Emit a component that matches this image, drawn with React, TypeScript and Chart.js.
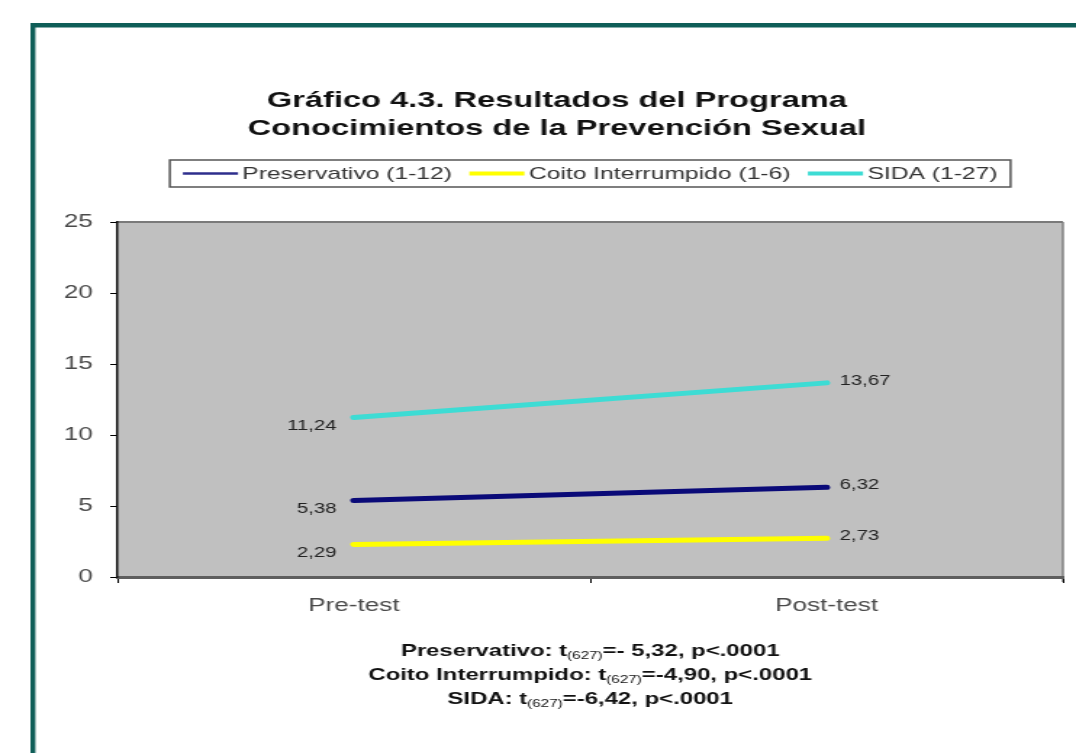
import React, { useEffect, useRef } from 'react';
import { Chart, registerables } from 'chart.js';

Chart.register(...registerables);

// ---- data ----
const categories = ['Pre-test', 'Post-test'];
const seriesNames = ['Preservativo (1-12)', 'Coito Interrumpido (1-6)', 'SIDA (1-27)'];
const preservativo = [5.38, 6.32];
const coitoInterrumpido = [2.29, 2.73];
const sida = [11.24, 13.67];
const seriesColors = ['#0a0a78', '#ffff00', '#3ddcd4'];
const yTicks = [0, 5, 10, 15, 20, 25];
const titleLines = ['Gráfico 4.3. Resultados del Programa', 'Conocimientos de la Prevención Sexual'];
const statNames = ['Preservativo', 'Coito Interrumpido', 'SIDA'];
const statDf = '(627)';
const statT = ['- 5,32', '-4,90', '-6,42'];
const statP = 'p<.0001';

// ---- layout ----
const W = 742;
const H = 753;
const STRETCH = 1076 / W;
const FONT = '"Liberation Sans", Arial, Helvetica, sans-serif';

const fmt = (v: number) => v.toFixed(2).replace('.', ',');

const decorPlugin = {
  id: 'decor',
  beforeDraw(chart: any) {
    const { ctx, chartArea: a, width, height } = chart;
    ctx.save();
    ctx.fillStyle = '#ffffff';
    ctx.fillRect(0, 0, width, height);
    // teal frame (top + left)
    ctx.fillStyle = '#0f5e58';
    ctx.fillRect(21, 23, width - 21, 4.5);
    ctx.fillRect(21, 23, 3.4, height - 23);
    // plot background
    ctx.fillStyle = '#c0c0c0';
    ctx.fillRect(a.left, a.top, a.right - a.left, a.bottom - a.top);
    ctx.strokeStyle = '#7a7a7a';
    ctx.lineWidth = 2;
    ctx.beginPath();
    ctx.moveTo(a.left, a.top);
    ctx.lineTo(a.right, a.top);
    ctx.stroke();
    ctx.lineWidth = 1.4;
    ctx.beginPath();
    ctx.moveTo(a.right, a.top);
    ctx.lineTo(a.right, a.bottom + 5);
    ctx.stroke();
    ctx.restore();
  },
  afterDatasetsDraw(chart: any) {
    const { ctx } = chart;
    ctx.save();
    ctx.font = `14px ${FONT}`;
    ctx.fillStyle = '#222222';
    ctx.textBaseline = 'middle';
    chart.data.datasets.forEach((ds: any, i: number) => {
      const meta = chart.getDatasetMeta(i);
      meta.data.forEach((pt: any, j: number) => {
        const txt = fmt(ds.data[j]);
        if (j === 0) {
          ctx.textAlign = 'right';
          ctx.fillText(txt, pt.x - 12, pt.y + 9);
        } else {
          ctx.textAlign = 'left';
          ctx.fillText(txt, pt.x + 9, pt.y - 2);
        }
      });
    });
    ctx.restore();
  },
  afterDraw(chart: any) {
    const { ctx, chartArea: a } = chart;
    const cx = (a.left + a.right) / 2;
    ctx.save();
    // title
    ctx.font = `bold 22.5px ${FONT}`;
    ctx.fillStyle = '#111111';
    ctx.textAlign = 'center';
    ctx.textBaseline = 'middle';
    ctx.fillText(titleLines[0], 384, 101);
    ctx.fillText(titleLines[1], 384, 129);

    // legend
    ctx.font = `17px ${FONT}`;
    const lineW = 38, gapLT = 3, gapItem = 12, padX = 9;
    const widths = chart.data.datasets.map((d: any) => ctx.measureText(d.label).width);
    let total = padX * 2;
    widths.forEach((w: number, i: number) => {
      total += lineW + gapLT + w + (i < widths.length - 1 ? gapItem : 0);
    });
    const boxL = cx - total / 2;
    const boxT = 160, boxH = 27;
    const ly = boxT + boxH / 2;
    ctx.fillStyle = '#ffffff';
    ctx.fillRect(boxL, boxT, total, boxH);
    ctx.strokeStyle = '#555555';
    ctx.lineWidth = 1.5;
    ctx.strokeRect(boxL, boxT, total, boxH);
    let x = boxL + padX;
    ctx.textAlign = 'left';
    chart.data.datasets.forEach((d: any, i: number) => {
      ctx.strokeStyle = i === 0 ? '#2e2e8c' : d.borderColor;
      ctx.lineWidth = i === 0 ? 2.5 : 4;
      ctx.beginPath();
      ctx.moveTo(x, ly);
      ctx.lineTo(x + lineW, ly);
      ctx.stroke();
      x += lineW + gapLT;
      ctx.fillStyle = '#333333';
      ctx.fillText(d.label, x, ly + 1);
      x += widths[i] + gapItem;
    });

    // statistics
    const bold = `bold 16.5px ${FONT}`;
    const sub = `10.5px ${FONT}`;
    const ys = [651, 675, 699];
    statNames.forEach((name, i) => {
      const segs = [
        { t: `${name}: t`, f: bold, dy: 0 },
        { t: statDf, f: sub, dy: 5 },
        { t: `=${statT[i]}, ${statP}`, f: bold, dy: 0 },
      ];
      let tw = 0;
      segs.forEach((s) => { ctx.font = s.f; tw += ctx.measureText(s.t).width; });
      let sx = cx - tw / 2;
      ctx.textAlign = 'left';
      ctx.fillStyle = '#111111';
      segs.forEach((s) => {
        ctx.font = s.f;
        ctx.fillText(s.t, sx, ys[i] + s.dy);
        sx += ctx.measureText(s.t).width;
      });
    });
    ctx.restore();
  },
};

export default function App() {
  const ref = useRef<HTMLCanvasElement>(null);
  useEffect(() => {
    if (!ref.current) return;
    const chart = new Chart(ref.current, {
      type: 'line',
      data: {
        labels: categories,
        datasets: [
          { label: seriesNames[0], data: preservativo, borderColor: seriesColors[0], backgroundColor: seriesColors[0] },
          { label: seriesNames[1], data: coitoInterrumpido, borderColor: seriesColors[1], backgroundColor: seriesColors[1] },
          { label: seriesNames[2], data: sida, borderColor: seriesColors[2], backgroundColor: seriesColors[2] },
        ].map((d) => ({ ...d, borderWidth: 5, pointRadius: 0, tension: 0, borderCapStyle: 'round' as const })),
      },
      options: {
        responsive: false,
        animation: false,
        layout: { padding: { top: 222, right: 9, bottom: 136, left: 0 } },
        plugins: {
          legend: { display: false },
          title: { display: false },
          tooltip: { enabled: false },
        },
        scales: {
          x: {
            type: 'category',
            offset: true,
            grid: { offset: true, drawOnChartArea: false, drawTicks: true, tickLength: 6, color: '#000000' },
            border: { display: true, color: '#5e5e5e', width: 3 },
            ticks: { font: { family: FONT, size: 18 }, color: '#4a4a4a', padding: 12 },
            afterFit: (s: any) => { s.height = 40; },
          },
          y: {
            min: yTicks[0],
            max: yTicks[yTicks.length - 1],
            ticks: { stepSize: yTicks[1] - yTicks[0], font: { family: FONT, size: 18 }, color: '#4a4a4a', padding: 12 },
            grid: { drawOnChartArea: false, drawTicks: true, tickLength: 5, color: '#000000' },
            border: { display: true, color: '#111111', width: 1.5 },
            afterFit: (s: any) => { s.width = 81; },
          },
        },
      },
      plugins: [decorPlugin],
    });
    return () => chart.destroy();
  }, []);
  return (
    <div
      style={{
        position: 'absolute',
        left: 0,
        top: 0,
        width: W,
        height: H,
        transform: `scaleX(${STRETCH})`,
        transformOrigin: '0 0',
      }}
    >
      <canvas ref={ref} width={W} height={H} style={{ width: W, height: H, display: 'block' }} />
    </div>
  );
}
